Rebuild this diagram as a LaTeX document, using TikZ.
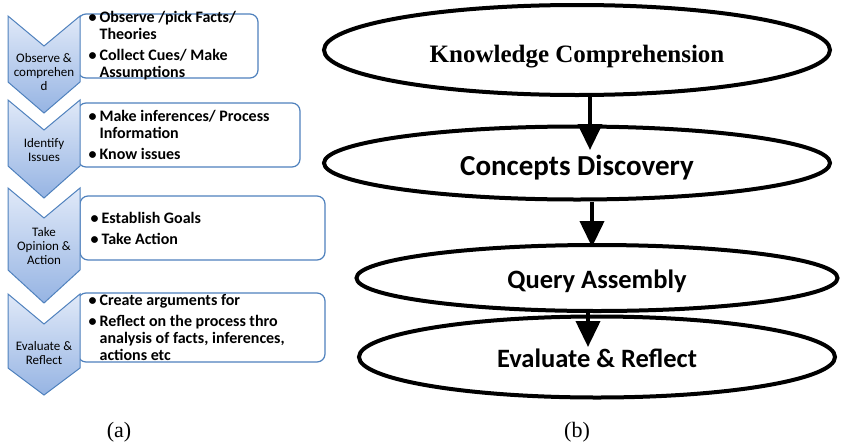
\documentclass[tikz,border=0pt]{standalone}
\usepackage{fontspec}
\setmainfont{Liberation Serif}
\newfontfamily\carlito{Carlito}
\usetikzlibrary{shapes.geometric,arrows.meta}

\definecolor{accent}{RGB}{79,129,189}
\definecolor{chevtop}{RGB}{224,233,248}
\definecolor{chevbot}{RGB}{150,180,227}

\newcommand{\bul}{\makebox[11pt][l]{\textbullet}}
\newcommand{\bulind}{\hspace*{11pt}}

\begin{document}
\begin{tikzpicture}[x=1pt,y=-1pt,
    chev/.style={draw=accent,line width=1pt,top color=chevtop,bottom color=chevbot},
    chevtext/.style={font=\carlito\fontsize{13}{14}\selectfont,align=center,inner sep=0pt},
    box/.style={draw=accent,line width=1.2pt,rounded corners=8pt,fill=white,inner sep=0pt},
    boxtext/.style={font=\carlito\bfseries\fontsize{16}{17}\selectfont,align=left,anchor=west,inner sep=0pt},
    ell/.style={ellipse,draw,line width=4pt,inner sep=0pt,text depth=0pt},
    arr/.style={line width=4pt,-{Triangle[length=26pt,width=24pt]}},
    sublabel/.style={font=\fontsize{22}{26}\selectfont}]
  \useasboundingbox (0,0) rectangle (848,442);

  % (a) steps
  \node[box,minimum width=180pt,minimum height=64pt] (b1) at (168,46) {};
  \node[box,minimum width=222pt,minimum height=64pt] (b2) at (189,135) {};
  \node[box,minimum width=245pt,minimum height=64pt] (b3) at (202.5,228) {};
  \node[box,minimum width=247pt,minimum height=69pt] (b4) at (201.5,327.5) {};

  \foreach \t/\s/\p/\m/\lbl [count=\i] in {
      16/82/113/72/{Observe \&\\comprehen\\d},
      100/166/198/150/{Identify\\Issues},
      188/270/303/246/{Take\\Opinion \&\\Action},
      294/368/395/353/{Evaluate \&\\Reflect}} {
    \draw[chev] (8,\t) -- (44,\t+30) -- (80,\t) -- (80,\s) -- (44,\p) -- (8,\s) -- cycle;
    \node[chevtext] (c\i) at (44,\m) {\lbl};
  }

  \node[boxtext] (t1) at ([xshift=11pt]b1.west)
    {\bul Observe /pick Facts/\\\bulind Theories\\[4pt]\bul Collect Cues/ Make\\\bulind Assumptions};
  \node[boxtext] (t2) at ([xshift=11pt]b2.west)
    {\bul Make inferences/ Process\\\bulind Information\\[4pt]\bul Know issues};
  \node[boxtext] (t3) at ([xshift=11pt]b3.west)
    {\bul Establish Goals\\[4pt]\bul Take Action};
  \node[boxtext] (t4) at ([xshift=11pt]b4.west)
    {\bul Create arguments for\\[4pt]\bul Reflect on the process thro\\\bulind analysis of facts, inferences,\\\bulind actions etc};

  % (b) stages
  \node[ell,minimum width=506pt,minimum height=90pt,text height=24pt,
    font=\bfseries\fontsize{25}{30}\selectfont] (e1) at (577,50) {Knowledge Comprehension};
  \node[ell,minimum width=506pt,minimum height=73pt,text height=24pt,
    font=\carlito\bfseries\fontsize{29}{32}\selectfont] (e2) at (577,163) {Concepts Discovery};
  \node[ell,minimum width=481pt,minimum height=66pt,text height=20pt,
    font=\carlito\bfseries\fontsize{26.5}{30}\selectfont] (e3) at (597,278) {Query Assembly};
  \node[ell,minimum width=476pt,minimum height=81pt,text height=21pt,
    font=\carlito\bfseries\fontsize{26.5}{30}\selectfont] (e4) at (597,357) {Evaluate \& Reflect};

  \coordinate (tip1) at (590,150);
  \coordinate (tip2) at (592,247);
  \coordinate (tip3) at (588,347);
  \draw[arr] (e1.south -| tip1) -- (tip1);
  \draw[arr] (e2.south -| tip2) -- (tip2);
  \draw[arr] (e3.south -| tip3) -- (tip3);

  \node[sublabel] (la) at (119,432) {(a)};
  \node[sublabel] (lb) at (577,432) {(b)};
\end{tikzpicture}
\end{document}
